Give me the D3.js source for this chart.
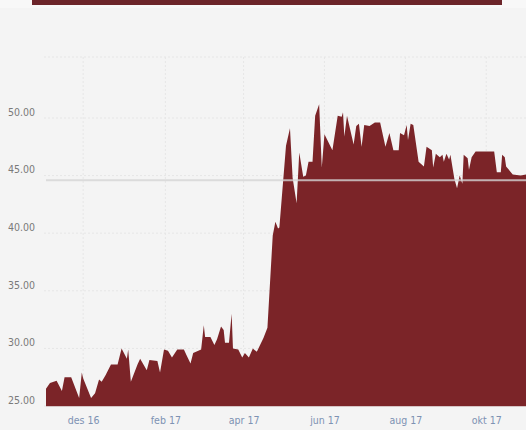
<!DOCTYPE html>
<html>
<head>
<meta charset="utf-8">
<script src="https://cdn.jsdelivr.net/npm/d3@7"></script>
<style>
  body { margin: 0; background: #f4f4f4; }
  svg { display: block; }
  .tick text { font-family: "DejaVu Sans", sans-serif; font-stretch: condensed; font-size: 10.5px; }
</style>
</head>
<body>
<div id="chart"></div>
<script>
var width = 526;
var height = 430;

// daily close
var dates = ["2016-11-03","2016-11-06","2016-11-11","2016-11-15","2016-11-17","2016-11-22","2016-11-28","2016-11-30"
            ,"2016-12-01","2016-12-07","2016-12-10","2016-12-13","2016-12-15","2016-12-18","2016-12-22","2016-12-27","2016-12-30"
            ,"2017-01-03","2017-01-04","2017-01-06","2017-01-11","2017-01-13","2017-01-18","2017-01-20","2017-01-26","2017-01-28","2017-01-31"
            ,"2017-02-03","2017-02-06","2017-02-10","2017-02-15","2017-02-17","2017-02-20","2017-02-22","2017-02-28"
            ,"2017-03-02","2017-03-03","2017-03-07","2017-03-10","2017-03-12","2017-03-15","2017-03-17","2017-03-18","2017-03-21","2017-03-23","2017-03-24","2017-03-28","2017-03-31"
            ,"2017-04-02","2017-04-05","2017-04-08","2017-04-11","2017-04-16","2017-04-19","2017-04-23","2017-04-25","2017-04-27","2017-04-28"
            ,"2017-05-03","2017-05-06","2017-05-08","2017-05-11","2017-05-13","2017-05-16","2017-05-18","2017-05-20","2017-05-23","2017-05-25","2017-05-28","2017-05-30"
            ,"2017-06-01","2017-06-07","2017-06-11","2017-06-14","2017-06-15","2017-06-16","2017-06-18","2017-06-23","2017-06-25","2017-06-27","2017-06-29"
            ,"2017-07-01","2017-07-05","2017-07-09","2017-07-13","2017-07-17","2017-07-20","2017-07-23","2017-07-27","2017-07-28","2017-07-31"
            ,"2017-08-02","2017-08-03","2017-08-05","2017-08-07","2017-08-11","2017-08-15","2017-08-17","2017-08-21","2017-08-22","2017-08-24","2017-08-27","2017-08-29","2017-08-30"
            ,"2017-09-01","2017-09-03","2017-09-04","2017-09-07","2017-09-09","2017-09-11","2017-09-13","2017-09-14","2017-09-17","2017-09-18","2017-09-20","2017-09-23","2017-09-29"
            ,"2017-10-07","2017-10-09","2017-10-12","2017-10-13","2017-10-15","2017-10-16","2017-10-21","2017-10-27","2017-10-31"];

var prices = [26.5,27.0,27.2,26.3,27.5,27.5,25.7,27.9
             ,27.4,25.7,26.1,27.3,27.1,27.7,28.6,28.6,30.0
             ,29.1,29.9,27.1,28.6,29.1,28.1,29.0,28.9,27.9,29.9
             ,29.8,29.2,29.9,29.9,29.4,28.7,29.6,29.9
             ,32.0,31.0,31.0,30.3,30.8,31.9,31.6,30.5,30.5,33.0,30.0,29.9,29.2
             ,29.6,29.2,30.0,29.7,30.9,31.8,39.8,41.0,40.4,40.5
             ,47.6,49.1,44.8,42.6,47.0,44.9,45.0,46.2,46.2,50.2,51.2,45.7
             ,48.6,47.2,50.2,50.1,50.5,48.4,50.2,47.7,49.3,49.5,47.5
             ,49.4,49.3,49.6,49.6,47.5,48.7,47.2,47.2,48.7,48.5
             ,49.4,48.1,49.5,49.4,46.2,45.8,47.5,47.2,45.7,46.9,46.6,46.8,46.2
             ,46.9,46.4,46.8,44.7,43.9,45.0,44.3,46.8,46.5,45.5,46.6,47.1,47.1
             ,47.1,45.3,45.3,46.8,46.6,45.8,45.1,45.0,45.1];

var average = 44.6;
var yTicks = [25, 30, 35, 40, 45, 50];
var xTicks = ["2016-12-01","2017-02-01","2017-04-01","2017-06-01","2017-08-01","2017-10-01"];
var monthNames = ["jan","feb","mar","apr","mai","jun","jul","aug","sep","okt","nov","des"];

var parse = d3.timeParse("%Y-%m-%d");
var data = dates.map(function(d, i) { return {date: parse(d), value: prices[i]}; });

var svg = d3.select("#chart")
    .append("svg")
    .attr("width", width)
    .attr("height", height);

svg.append("rect")
    .attr("width", width).attr("height", 8)
    .attr("fill", "#f8f8f8");

svg.append("rect")
    .attr("x", 32).attr("y", 0)
    .attr("width", 470).attr("height", 5)
    .attr("fill", "#6c252a");

var x = d3.scaleTime()
    .domain([parse("2016-11-03"), parse("2017-10-31")])
    .range([46, 526]);

var y = d3.scaleLinear()
    .domain([25, 50])
    .range([406, 118]);

// grid
svg.append("line")
    .attr("x1", 44).attr("x2", width)
    .attr("y1", 57).attr("y2", 57)
    .attr("stroke", "#e6e6e6")
    .attr("stroke-dasharray", "2,2");

svg.append("g")
    .selectAll("line")
    .data(yTicks)
    .enter()
    .append("line")
    .attr("x1", 44).attr("x2", width)
    .attr("y1", function(d) {return y(d)})
    .attr("y2", function(d) {return y(d)})
    .attr("stroke", "#e6e6e6")
    .attr("stroke-dasharray", "2,2");

svg.append("g")
    .selectAll("line")
    .data(xTicks)
    .enter()
    .append("line")
    .attr("x1", function(d) {return x(parse(d))})
    .attr("x2", function(d) {return x(parse(d))})
    .attr("y1", 57).attr("y2", 406)
    .attr("stroke", "#e6e6e6")
    .attr("stroke-dasharray", "2,2");

// area
var area = d3.area()
    .x(function(d) {return x(d.date)})
    .y0(y(25))
    .y1(function(d) {return y(d.value)});

svg.append("path")
    .datum(data)
    .attr("d", area)
    .attr("fill", "#7b2428");

svg.append("line")
    .attr("x1", 46).attr("x2", width)
    .attr("y1", y(25) + 0.5).attr("y2", y(25) + 0.5)
    .attr("stroke", "#d6c4c5");

// average line
svg.append("line")
    .attr("x1", 46).attr("x2", width)
    .attr("y1", y(average)).attr("y2", y(average))
    .attr("stroke", "#d4d4d4")
    .attr("stroke-opacity", 0.8)
    .attr("stroke-width", 2);

// axes
var yAxis = d3.axisLeft(y)
    .tickValues(yTicks)
    .tickFormat(d3.format(".2f"))
    .tickSize(0)
    .tickPadding(0);

svg.append("g")
    .attr("transform", "translate(35,-6)")
    .call(yAxis)
    .call(function(g) { g.select(".domain").remove(); })
    .selectAll("text")
    .attr("fill", "#7a7a7a");

var xAxis = d3.axisBottom(x)
    .tickValues(xTicks.map(parse))
    .tickFormat(function(d) { return monthNames[d.getMonth()] + " " + String(d.getFullYear()).slice(2); })
    .tickSize(0)
    .tickPadding(0);

svg.append("g")
    .attr("transform", "translate(0,417)")
    .call(xAxis)
    .call(function(g) { g.select(".domain").remove(); })
    .selectAll("text")
    .attr("fill", "#7d92b3");
</script>
</body>
</html>
